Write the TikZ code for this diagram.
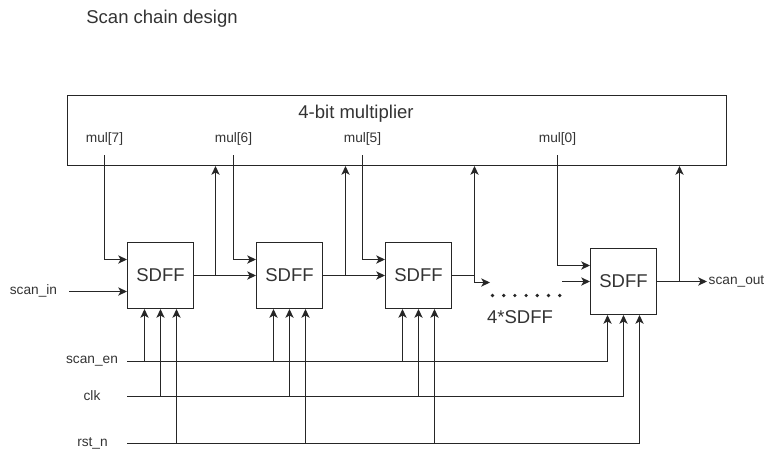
\documentclass[tikz,border=0pt]{standalone}
\usepackage{fontspec}
\setmainfont{Liberation Sans}
\usetikzlibrary{arrows.meta}

\begin{document}
\begin{tikzpicture}[
    x=0.03cm, y=-0.03cm,
    line width=0.85pt,
    bigtxt/.style={font=\fontsize{15.8}{18}\selectfont, text=black!80},
    smalltxt/.style={font=\fontsize{11.7}{14}\selectfont, text=black!80},
    sdff/.style={
      draw=black!85, bigtxt, inner sep=0pt,
      minimum width=66*\px, minimum height=66*\px
    },
    multbox/.style={draw=black!85, minimum width=659*\px, minimum height=70*\px},
    wire/.style={draw=black!85},
    sig/.style={wire, -{Stealth[length=7.5pt,width=7pt,inset=2pt]}},
  ]
  \def\px{0.03cm}
  \def\pin{16}
  \useasboundingbox (0,0) rectangle (766,452);

  \node[bigtxt] (title) at (162,19) {Scan chain design};

  % --- multiplier and its outputs ---
  \node[multbox] (mult) at (397,130.5) {};
  \node[bigtxt] (multname) at (356,114) {4-bit multiplier};
  \foreach \b/\x in {7/104.5, 6/233.5, 5/362.5, 0/557.5} {
    \node[smalltxt] (lbl\b) at (\x,139) {mul[\b]};
    \coordinate (m\b) at (\x,155);
  }

  % --- scan flip-flops ---
  \foreach \n/\x/\y in {1/160.5/275.5, 2/289.5/275.5, 3/418.5/275.5, 4/623.5/281.5} {
    \node[sdff] (ff\n) at (\x,\y) {SDFF};
    \coordinate (ff\n en) at ([xshift=-\pin*\px]ff\n.south);
    \coordinate (ff\n clk) at (ff\n.south);
    \coordinate (ff\n rst) at ([xshift=\pin*\px]ff\n.south);
  }
  \node[bigtxt] (more) at (520,317) {4*SDFF};
  \foreach \i in {0,...,6} {
    \fill[black!85] (492.5+\i*11.2,295.5) circle[radius=0.055cm];
  }

  % functional inputs from the multiplier
  \draw[sig] (m7) |- ([yshift=\pin*\px]ff1.west);
  \draw[sig] (m6) |- ([yshift=\pin*\px]ff2.west);
  \draw[sig] (m5) |- ([yshift=\pin*\px]ff3.west);
  \draw[sig] (m0) |- ([yshift=\pin*\px]ff4.west);

  % --- scan path ---
  \node[smalltxt] (sin) at (33.5,291) {scan\_in};
  \coordinate (si0) at (69,291.5);
  \draw[sig] (si0) -- (si0 -| ff1.west);

  \coordinate (b1) at (215.5,275.5);
  \coordinate (b2) at (345.5,275.5);
  \coordinate (b3) at (474.5,275.5);
  \coordinate (b4) at (679.5,281.5);
  \draw[sig] (ff1.east) -- (ff2.west);
  \draw[sig] (ff2.east) -- (ff3.west);
  \coordinate (d3) at (490,282.5);
  \draw[sig] (ff3.east) -| (b3 |- d3) -- (d3);
  \coordinate (d4) at (562,281.5);
  \draw[sig] (d4) -- (ff4.west);

  \node[smalltxt, anchor=west, inner sep=1pt] (sout) at (707,281.5) {scan\_out};
  \draw[sig] (ff4.east) -- (sout.west);

  % outputs back to the multiplier
  \foreach \k in {1,...,4} {
    \draw[sig] (b\k) -- (b\k |- mult.south);
  }

  % --- global control lines ---
  \node[smalltxt] (enlbl) at (92,361) {scan\_en};
  \node[smalltxt] (clklbl) at (92,396) {clk};
  \node[smalltxt] (rstlbl) at (92.5,443) {rst\_n};
  \coordinate (en0) at (127,361.5);
  \coordinate (clk0) at (127,396.5);
  \coordinate (rst0) at (127,443.5);
  \foreach \s in {en,clk,rst} {
    \draw[sig] (\s0) -| (ff4\s);
    \foreach \f in {ff1,ff2,ff3} {
      \draw[sig] (\f\s |- \s0) -- (\f\s);
    }
  }
\end{tikzpicture}
\end{document}
